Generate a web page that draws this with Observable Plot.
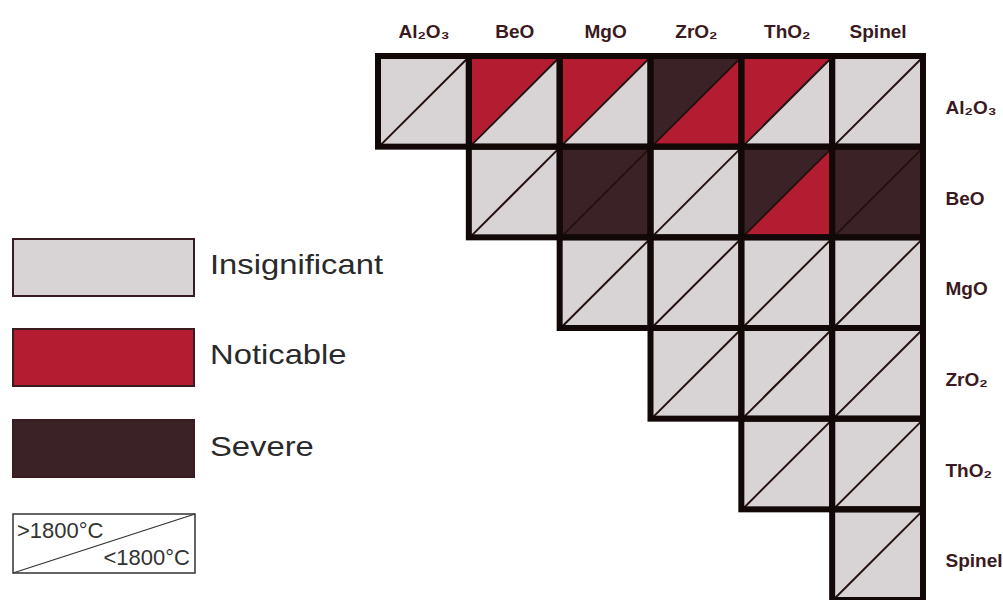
<!DOCTYPE html>
<html><head><meta charset="utf-8">
<script src="https://cdn.jsdelivr.net/npm/d3@7"></script>
<script src="https://cdn.jsdelivr.net/npm/@observablehq/plot@0.6"></script>
<style>
body{margin:0;background:#fff;}
#wrap{position:relative;width:1003px;height:600px;overflow:hidden;background:#fff;}
#chart{position:absolute;left:0;top:0;}
.sw{position:absolute;left:12px;width:179px;height:55px;border:2px solid #3a1c20;}
.lab{position:absolute;left:210px;font-family:"Liberation Sans",Arial,sans-serif;font-size:28px;line-height:28px;color:#2a2a2a;transform:scaleX(1.17);transform-origin:left center;white-space:nowrap;}
#temp{position:absolute;left:12px;top:513px;}
</style>
</head><body>
<div id="wrap"><div id="chart"></div><div id="legend"></div></div>
<script>
// Oxides (columns and rows)
const columns = ["Al₂O₃", "BeO", "MgO", "ZrO₂", "ThO₂", "Spinel"];
const rowsLabels = ["Al₂O₃", "BeO", "MgO", "ZrO₂", "ThO₂", "Spinel"];
// Reaction levels
const levels = ["Insignificant", "Noticable", "Severe"];
const levelColors = ["#d8d4d5", "#b31c31", "#3b2226"];
// Reaction above 1800°C (upper-left triangle), row by row (null = empty)
const above1800 = [
  ["Insignificant", "Noticable", "Noticable", "Severe", "Noticable", "Insignificant"],
  [null, "Insignificant", "Severe", "Insignificant", "Severe", "Severe"],
  [null, null, "Insignificant", "Insignificant", "Insignificant", "Insignificant"],
  [null, null, null, "Insignificant", "Insignificant", "Insignificant"],
  [null, null, null, null, "Insignificant", "Insignificant"],
  [null, null, null, null, null, "Insignificant"]
];
// Reaction below 1800°C (lower-right triangle)
const below1800 = [
  ["Insignificant", "Insignificant", "Insignificant", "Noticable", "Insignificant", "Insignificant"],
  [null, "Insignificant", "Severe", "Insignificant", "Noticable", "Severe"],
  [null, null, "Insignificant", "Insignificant", "Insignificant", "Insignificant"],
  [null, null, null, "Insignificant", "Insignificant", "Insignificant"],
  [null, null, null, null, "Insignificant", "Insignificant"],
  [null, null, null, null, null, "Insignificant"]
];
const tempLabels = [">1800°C", "<1800°C"];

const cells = [];
above1800.forEach((row, r) => row.forEach((hi, c) => {
  if (hi) cells.push({r, c, hi, lo: below1800[r][c], id: r + "-" + c});
}));
// upper-left triangle: x from c to c+1, top edge y=r, diagonal from (c, r+1) to (c+1, r)
const tri = cells.flatMap(d => [
  {id: d.id, hi: d.hi, x: d.c, y1: d.r, y2: d.r + 1},
  {id: d.id, hi: d.hi, x: d.c + 1, y1: d.r, y2: d.r}
]);

const idx = d3.range(6).map(i => i + 0.5);
const labelFont = '"Liberation Sans", Arial, sans-serif';

const chart = Plot.plot({
  width: 1003,
  height: 600,
  marginLeft: 378,
  marginRight: 80,
  marginTop: 56,
  marginBottom: 0,
  style: {background: "transparent", overflow: "visible"},
  x: {domain: [0, 6]},
  y: {domain: [0, 6], reverse: true},
  color: {domain: levels, range: levelColors},
  marks: [
    Plot.rect(cells, {x1: "c", x2: d => d.c + 1, y1: "r", y2: d => d.r + 1, fill: "lo"}),
    Plot.areaY(tri, {x: "x", y1: "y1", y2: "y2", z: "id", fill: "hi", curve: "linear"}),
    Plot.link(cells, {x1: "c", y1: d => d.r + 1, x2: d => d.c + 1, y2: "r", stroke: "#24100f", strokeWidth: 2}),
    Plot.rect(cells, {x1: "c", x2: d => d.c + 1, y1: "r", y2: d => d.r + 1, fill: "none", stroke: "#120808", strokeWidth: 6}),
    Plot.axisX({anchor: "top", ticks: idx, tickFormat: v => columns[Math.floor(v)], tickSize: 0, tickPadding: 19,
      fontSize: 19, fontWeight: "bold", fontFamily: labelFont, fill: "#3a1a20", label: null}),
    Plot.axisY({anchor: "right", ticks: idx, tickFormat: v => rowsLabels[Math.floor(v)], tickSize: 0, tickPadding: 22,
      dy: 6, fontSize: 19, fontWeight: "bold", fontFamily: labelFont, fill: "#3a1a20", label: null})
  ]
});
document.getElementById("chart").appendChild(chart);

// Legend
const legend = document.getElementById("legend");
const swTops = [238, 328, 419];
const labTops = [251, 341, 433];
levels.forEach((lv, i) => {
  const s = document.createElement("div");
  s.className = "sw";
  s.style.top = swTops[i] + "px";
  s.style.background = levelColors[i];
  legend.appendChild(s);
  const t = document.createElement("div");
  t.className = "lab";
  t.style.top = labTops[i] + "px";
  t.textContent = lv;
  legend.appendChild(t);
});
const tsvg = d3.create("svg").attr("id", "temp").attr("width", 184).attr("height", 62);
tsvg.append("rect").attr("x", 1).attr("y", 1).attr("width", 182).attr("height", 59)
  .attr("fill", "#fff").attr("stroke", "#333").attr("stroke-width", 1.5);
tsvg.append("line").attr("x1", 1).attr("y1", 60).attr("x2", 183).attr("y2", 1)
  .attr("stroke", "#333").attr("stroke-width", 1.3);
tsvg.append("text").attr("x", 5).attr("y", 25).text(tempLabels[0])
  .attr("font-family", labelFont).attr("font-size", 22).attr("fill", "#333");
tsvg.append("text").attr("x", 178).attr("y", 52).attr("text-anchor", "end").text(tempLabels[1])
  .attr("font-family", labelFont).attr("font-size", 22).attr("fill", "#333");
legend.appendChild(tsvg.node());
</script>
</body></html>
